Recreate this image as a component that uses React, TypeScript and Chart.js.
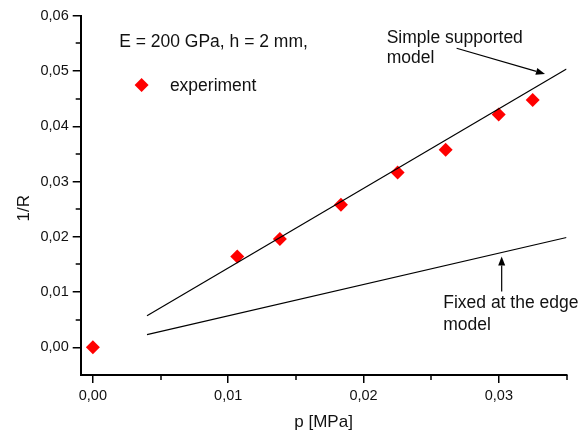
import React, { useEffect, useRef } from "react";
import { Chart, registerables } from "chart.js";

Chart.register(...registerables);

// Experimental data: p [MPa] vs 1/R
const expP = [0.0, 0.01067, 0.01382, 0.01833, 0.02252, 0.02607, 0.02999, 0.0325];
const expR = [0.0, 0.01645, 0.01959, 0.02579, 0.03163, 0.03573, 0.04211, 0.04477];

// Model lines (endpoints)
const simpleP = [0.004, 0.035];
const simpleR = [0.00573, 0.05037];
const fixedP = [0.004, 0.035];
const fixedR = [0.0023, 0.01988];

const xMinorTicks = [0.005, 0.015, 0.025, 0.035];
const yMinorTicks = [0.005, 0.015, 0.025, 0.035, 0.045, 0.055];

const FONT = "'Liberation Sans', Arial, sans-serif";
const fmt = (v: number) => v.toFixed(2).replace(".", ",");

const toXY = (xs: number[], ys: number[]) => xs.map((x, i) => ({ x, y: ys[i] }));

function arrow(ctx: CanvasRenderingContext2D, x1: number, y1: number, x2: number, y2: number) {
  const ang = Math.atan2(y2 - y1, x2 - x1);
  const hl = 9;
  const hw = 3.5;
  const bx = x2 - hl * Math.cos(ang);
  const by = y2 - hl * Math.sin(ang);
  ctx.beginPath();
  ctx.moveTo(x1, y1);
  ctx.lineTo(bx, by);
  ctx.stroke();
  ctx.beginPath();
  ctx.moveTo(x2, y2);
  ctx.lineTo(bx + hw * Math.sin(ang), by - hw * Math.cos(ang));
  ctx.lineTo(bx - hw * Math.sin(ang), by + hw * Math.cos(ang));
  ctx.closePath();
  ctx.fill();
}

const annotationPlugin = {
  id: "annotations",
  afterDraw(chart: any) {
    const { ctx } = chart;
    const xs = chart.scales.x;
    const ys = chart.scales.y;
    const X = (v: number) => xs.getPixelForValue(v);
    const Y = (v: number) => ys.getPixelForValue(v);
    ctx.save();
    ctx.strokeStyle = "#000";
    ctx.fillStyle = "#000";
    ctx.lineWidth = 1.5;
    // minor ticks
    const bottom = chart.chartArea.bottom;
    const left = chart.chartArea.left;
    ctx.beginPath();
    xMinorTicks.forEach((v) => {
      const px = Math.round(X(v));
      ctx.moveTo(px, bottom);
      ctx.lineTo(px, bottom + 5);
    });
    yMinorTicks.forEach((v) => {
      const py = Math.round(Y(v));
      ctx.moveTo(left, py);
      ctx.lineTo(left - 5, py);
    });
    ctx.stroke();

    // text annotations
    ctx.font = `17.5px ${FONT}`;
    ctx.textBaseline = "alphabetic";
    ctx.textAlign = "left";
    ctx.fillStyle = "#111";
    ctx.fillText("E = 200 GPa, h = 2 mm,", X(0.00194), Y(0.0544));
    ctx.fillText("experiment", X(0.00569), Y(0.04645));
    ctx.fillText("Simple supported", X(0.02171), Y(0.05512));
    ctx.fillText("model", X(0.02171), Y(0.0514));
    ctx.fillText("Fixed at the edge", X(0.02589), Y(0.00712));
    ctx.fillText("model", X(0.02589), Y(0.0032));

    // legend marker
    const mx = X(0.0036);
    const my = Y(0.04748);
    const r = 7;
    ctx.fillStyle = "#ff0000";
    ctx.beginPath();
    ctx.moveTo(mx, my - r);
    ctx.lineTo(mx + r, my);
    ctx.lineTo(mx, my + r);
    ctx.lineTo(mx - r, my);
    ctx.closePath();
    ctx.fill();

    // arrows
    ctx.fillStyle = "#000";
    ctx.lineWidth = 1.2;
    arrow(ctx, X(0.02688), Y(0.05411), X(0.03341), Y(0.04947));
    arrow(ctx, X(0.03021), Y(0.01012), X(0.03021), Y(0.01645));

    // axis titles
    ctx.fillStyle = "#111";
    ctx.font = `17px ${FONT}`;
    ctx.textAlign = "center";
    ctx.fillText("p [MPa]", (chart.chartArea.left + chart.chartArea.right) / 2, 427);
    ctx.save();
    ctx.translate(29, Y(0.025) - 1);
    ctx.rotate(-Math.PI / 2);
    ctx.fillText("1/R", 0, 0);
    ctx.restore();
    ctx.restore();
  },
};

export default function App() {
  const ref = useRef<HTMLCanvasElement | null>(null);
  useEffect(() => {
    if (!ref.current) return;
    const chart = new Chart(ref.current, {
      type: "scatter",
      data: {
        datasets: [
          {
            label: "Simple supported model",
            data: toXY(simpleP, simpleR),
            showLine: true,
            borderColor: "#000",
            borderWidth: 1.2,
            pointRadius: 0,
          },
          {
            label: "Fixed at the edge model",
            data: toXY(fixedP, fixedR),
            showLine: true,
            borderColor: "#000",
            borderWidth: 1.2,
            pointRadius: 0,
          },
          {
            label: "experiment",
            data: toXY(expP, expR),
            pointStyle: "rectRot",
            pointRadius: 7,
            backgroundColor: "#ff0000",
            borderColor: "#ff0000",
            borderWidth: 0,
          },
        ],
      },
      options: {
        animation: false,
        responsive: true,
        maintainAspectRatio: false,
        layout: { padding: { top: 15.7, right: 14.5, left: 0, bottom: 0 } },
        plugins: { legend: { display: false }, tooltip: { enabled: false } },
        scales: {
          x: {
            type: "linear",
            min: -0.0009,
            max: 0.035,
            border: { color: "#000", width: 2 },
            grid: { drawOnChartArea: false, drawTicks: true, tickLength: 8, color: "#000", lineWidth: 1.5 },
            ticks: {
              stepSize: 0.01,
              includeBounds: false,
              autoSkip: false,
              maxRotation: 0,
              padding: 4,
              color: "#111",
              font: { family: FONT, size: 14.5 },
              callback: (v: any) => fmt(Number(v)),
            },
            afterFit: (s: any) => {
              s.height = 55;
            },
          },
          y: {
            type: "linear",
            min: -0.005,
            max: 0.06,
            border: { color: "#000", width: 2 },
            grid: { drawOnChartArea: false, drawTicks: true, tickLength: 8, color: "#000", lineWidth: 1.5 },
            ticks: {
              stepSize: 0.01,
              includeBounds: false,
              autoSkip: false,
              padding: 4,
              color: "#111",
              font: { family: FONT, size: 14.5 },
              callback: (v: any) => fmt(Number(v)),
            },
            afterFit: (s: any) => {
              s.width = 80.7;
            },
          },
        },
      },
      plugins: [annotationPlugin],
    });
    return () => chart.destroy();
  }, []);
  return (
    <div style={{ position: "absolute", left: 0, top: 0, width: 581, height: 430, background: "#fff" }}>
      <canvas ref={ref} />
    </div>
  );
}
